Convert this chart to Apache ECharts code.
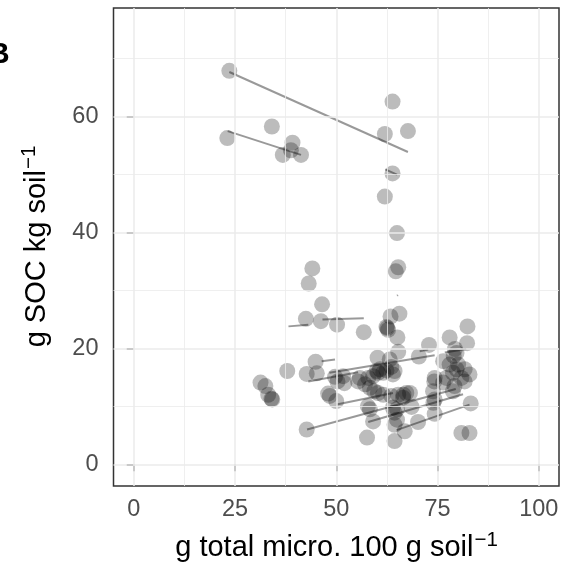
<!DOCTYPE html>
<html>
<head>
<meta charset="utf-8">
<script src="https://cdn.jsdelivr.net/npm/echarts@6/dist/echarts.min.js"></script>
<style>html,body{margin:0;padding:0;background:#fff}#c{width:562px;height:570px}</style>
</head>
<body>
<div id="c"></div>
<script>
// ---- data ----
const pointX = [
 23.6,63.9,34.1,23.1,62.0,67.7,39.2,38.8,36.8,41.3,63.9,62.0,
 65.0,44.1,65.3,64.7,43.2,46.5,42.5,46.2,50.2,56.8,65.6,63.4,62.4,62.8,62.6,65.1,65.3,
 82.4,78.0,82.3,72.9,70.4,79.3,79.7,79.0,76.4,78.0,80.1,81.7,79.7,74.3,77.2,82.9,78.8,80.9,81.7,76.4,74.2,
 73.9,74.3,74.0,74.3,78.8,79.2,83.2,80.9,82.9,70.2,68.6,66.9,68.2,66.6,67.3,
 31.3,32.5,33.2,34.0,34.2,37.9,
 44.9,42.7,45.2,50.3,52.0,48.0,48.4,50.0,42.7,51.7,49.7,
 55.4,57.1,58.3,59.4,60.3,61.6,63.6,65.3,66.5,55.8,57.9,59.1,60.2,63.2,63.6,60.8,62.4,64.4,61.6,64.0,60.3,57.8,58.3,59.1,57.6,64.4,64.4,65.0,64.4,64.0,65.0,60.0
];
const pointY = [
 67.9,62.6,58.3,56.3,57.0,57.5,55.5,54.2,53.4,53.4,50.2,46.2,
 39.9,33.8,34.0,33.3,31.2,27.6,25.1,24.7,24.1,22.8,26.0,25.5,23.7,23.2,23.5,21.9,19.4,
 23.8,21.9,20.9,20.6,18.6,19.9,19.2,18.7,17.8,17.2,17.2,16.4,16.4,14.9,14.9,15.5,15.8,14.9,14.3,14.1,14.3,
 12.6,11.2,10.6,8.7,12.6,13.5,10.5,5.4,5.4,7.3,9.9,5.7,12.3,12.0,12.3,
 14.1,13.5,12.0,11.3,11.2,16.1,
 17.7,15.6,15.7,14.3,14.0,12.2,11.8,10.9,6.0,15.2,15.1,
 14.3,13.8,13.2,12.6,12.3,12.0,11.8,12.0,11.5,14.9,14.9,15.2,18.4,18.1,16.8,16.4,16.2,16.1,15.8,15.5,15.8,10.0,9.5,7.4,4.6,4.0,6.8,7.7,8.9,9.8,9.5,16.1
];
// fitted group lines: start / end
const lineX1 = [23.6,23.2,62.1,38.2,46.6,46.4,48.3,70.6,76.8,43.1,50.1,42.8,57.9,64.9,65.05];
const lineY1 = [67.7,57.5,50.9,23.8,25.0,17.8,15.8,19.5,19.3,14.3,10.3, 6.0, 7.3, 5.9,29.1];
const lineX2 = [67.7,41.3,65.0,43.1,56.8,49.7,74.3,72.7,82.1,55.4,64.0,79.5,81.3,82.9,65.2];
const lineY2 = [53.9,53.4,50.0,24.1,25.2,18.1,18.8,19.8,19.9,15.9,12.3,13.0,12.1,10.3,29.2];
const xTicks = [0,25,50,75,100];
const yTicks = [0,20,40,60];
const xMinor = [12.5,37.5,62.5,87.5];
const yMinor = [10,30,50,70];

const chart = echarts.init(document.getElementById('c'), null, {renderer:'canvas'});
const FONT = '"Liberation Sans", Arial, sans-serif';
const TITLE_FONT = '29px ' + FONT;
const SUP_FONT = '20.5px ' + FONT;

const series = [];
// grid lines
series.push({
  type:'line', data:[], z:1, silent:true,
  markLine:{silent:true, symbol:'none', animation:false, label:{show:false},
    data: [
      ...xTicks.map(v=>({xAxis:v, lineStyle:{color:'#EBEBEB', width:1.5, type:'solid'}})),
      ...yTicks.map(v=>({yAxis:v, lineStyle:{color:'#EBEBEB', width:1.5, type:'solid'}})),
      ...xMinor.map(v=>({xAxis:v, lineStyle:{color:'#EBEBEB', width:0.8, type:'solid'}})),
      ...yMinor.map(v=>({yAxis:v, lineStyle:{color:'#EBEBEB', width:0.8, type:'solid'}}))
    ]}
});
series.push({
  type:'scatter', z:2, symbolSize:16, silent:true,
  itemStyle:{color:'rgba(0,0,0,0.33)', borderWidth:0},
  data: pointX.map((x,i)=>[x, pointY[i]])
});
for (let i=0;i<lineX1.length;i++){
  series.push({type:'line', z:3, silent:true, symbol:'none',
    lineStyle:{color:'rgba(0,0,0,0.4)', width:2},
    data:[[lineX1[i],lineY1[i]],[lineX2[i],lineY2[i]]]});
}

// title layout: main text + raised superscript, whole group centred on the panel
const xMainW = echarts.format.getTextRect ? echarts.format.getTextRect('g total micro. 100 g soil', TITLE_FONT).width : 298;
const yMainW = echarts.format.getTextRect ? echarts.format.getTextRect('g SOC kg soil', TITLE_FONT).width : 177;
const supW = echarts.format.getTextRect ? echarts.format.getTextRect('\u22121', SUP_FONT).width : 23;
const xTitleEnd = 336 - (xMainW + supW) / 2 + xMainW;
const yTitleEnd = 247 + (yMainW + supW) / 2 - yMainW;

chart.setOption({
  animation:false,
  backgroundColor:'#fff',
  grid:{left:113.5, right:3, top:8, bottom:84, show:true, borderColor:'#333', borderWidth:1.5, backgroundColor:'transparent'},
  xAxis:{type:'value', min:-5, max:105,
    axisLine:{show:false},
    axisTick:{show:true, length:7, customValues:xTicks, lineStyle:{color:'#333', width:1.5}},
    axisLabel:{customValues:xTicks, color:'#4D4D4D', fontSize:23.5, fontFamily:FONT, margin:12},
    splitLine:{show:false}},
  yAxis:{type:'value', min:-3.75, max:78.75,
    axisLine:{show:false},
    axisTick:{show:true, length:7, customValues:yTicks, lineStyle:{color:'#333', width:1.5}},
    axisLabel:{customValues:yTicks, color:'#4D4D4D', fontSize:23.5, fontFamily:FONT, margin:15},
    splitLine:{show:false}},
  graphic:[
    {type:'text', x:-12, y:55, style:{text:'B', font:'bold 30px '+FONT, fill:'#000', verticalAlign:'middle'}},
    {type:'text', x:xTitleEnd, y:548, style:{text:'g total micro. 100 g soil', font:TITLE_FONT, fill:'#000', align:'right', verticalAlign:'middle'}},
    {type:'text', x:xTitleEnd+1, y:540, style:{text:'\u22121', font:SUP_FONT, fill:'#000', align:'left', verticalAlign:'middle'}},
    {type:'text', x:37, y:yTitleEnd, rotation:Math.PI/2, style:{text:'g SOC kg soil', font:TITLE_FONT, fill:'#000', align:'right', verticalAlign:'middle'}},
    {type:'text', x:29, y:yTitleEnd-1, rotation:Math.PI/2, style:{text:'\u22121', font:SUP_FONT, fill:'#000', align:'left', verticalAlign:'middle'}}
  ],
  series: series
});
</script>
</body>
</html>
